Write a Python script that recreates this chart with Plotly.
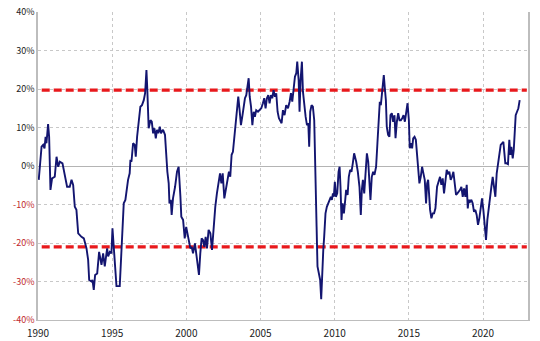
import plotly.graph_objects as go

# Monthly-ish readings of the series (fractional year, % value)
years = [
    1990.05, 1990.24, 1990.35, 1990.44, 1990.51, 1990.57, 1990.68, 1990.75, 1990.84, 1990.95,
    1991.13, 1991.25, 1991.36, 1991.47, 1991.65, 1991.81, 1991.96, 1992.14, 1992.26, 1992.37,
    1992.48, 1992.59, 1992.71, 1992.93, 1993.09, 1993.27, 1993.38, 1993.45, 1993.60, 1993.67,
    1993.76, 1993.85, 1993.99, 1994.12, 1994.28, 1994.39, 1994.50, 1994.66, 1994.73, 1994.84,
    1994.95, 1995.02,
    1995.29, 1995.51, 1995.62, 1995.69, 1995.78, 1995.89, 1995.96, 1996.07, 1996.18, 1996.23,
    1996.30, 1996.41, 1996.52, 1996.59, 1996.68, 1996.79, 1996.90, 1997.01, 1997.13, 1997.22,
    1997.31, 1997.37, 1997.46, 1997.58, 1997.67, 1997.76, 1997.85, 1997.94, 1998.02, 1998.11,
    1998.21, 1998.29, 1998.43, 1998.56, 1998.65, 1998.72, 1998.81, 1998.86, 1998.95, 1999.01,
    1999.10, 1999.24, 1999.37, 1999.48, 1999.60, 1999.66, 1999.78, 1999.89, 1999.99, 2000.14,
    2000.27, 2000.36, 2000.45, 2000.58,
    2000.67, 2000.85, 2000.94, 2001.03, 2001.12, 2001.21, 2001.30, 2001.39, 2001.50, 2001.62,
    2001.73, 2001.84, 2001.95, 2002.06, 2002.18, 2002.27, 2002.36, 2002.45, 2002.56, 2002.67,
    2002.78, 2002.87, 2002.96, 2003.05, 2003.14, 2003.23, 2003.32, 2003.41, 2003.50, 2003.59,
    2003.68, 2003.77, 2003.86, 2003.95, 2004.04, 2004.13, 2004.20, 2004.27, 2004.36, 2004.45,
    2004.54, 2004.62, 2004.71, 2004.83, 2004.94, 2005.05, 2005.16, 2005.25, 2005.34, 2005.43,
    2005.52, 2005.61, 2005.70, 2005.79, 2005.88, 2005.97, 2006.06,
    2006.15, 2006.24, 2006.33, 2006.42, 2006.51, 2006.62, 2006.73, 2006.85, 2006.96, 2007.05,
    2007.14, 2007.23, 2007.32, 2007.41, 2007.475, 2007.57, 2007.63, 2007.70, 2007.79, 2007.86,
    2007.95, 2008.04, 2008.13, 2008.22, 2008.28, 2008.35, 2008.44, 2008.53, 2008.62, 2008.71,
    2008.78, 2008.84, 2008.93, 2009.02, 2009.09, 2009.16, 2009.23, 2009.29, 2009.38, 2009.47,
    2009.56, 2009.65, 2009.74, 2009.81, 2009.88, 2009.94, 2010.01, 2010.08, 2010.17, 2010.26,
    2010.33, 2010.39, 2010.46, 2010.53, 2010.62, 2010.71, 2010.77, 2010.87, 2010.95, 2011.04,
    2011.13, 2011.22, 2011.31,
    2011.45, 2011.56, 2011.67, 2011.76, 2011.83, 2011.90, 2011.99, 2012.08, 2012.17, 2012.26,
    2012.35, 2012.41, 2012.50, 2012.59, 2012.68, 2012.79, 2012.88, 2012.97, 2013.04, 2013.11,
    2013.18, 2013.24, 2013.31, 2013.38, 2013.45, 2013.51, 2013.60, 2013.69, 2013.76, 2013.85,
    2013.94, 2014.03, 2014.10, 2014.19, 2014.28, 2014.37, 2014.46, 2014.55, 2014.64, 2014.73,
    2014.82, 2014.91, 2015.00, 2015.06, 2015.13, 2015.22, 2015.29, 2015.38, 2015.47, 2015.53,
    2015.62, 2015.71, 2015.80, 2015.89, 2015.98, 2016.07, 2016.16, 2016.23, 2016.30, 2016.36,
    2016.43, 2016.52, 2016.61, 2016.70, 2016.79,
    2016.90, 2017.01, 2017.10, 2017.19, 2017.28, 2017.37, 2017.46, 2017.55, 2017.64, 2017.73,
    2017.82, 2017.91, 2018.00, 2018.09, 2018.18, 2018.27, 2018.36, 2018.45, 2018.54, 2018.63,
    2018.72, 2018.81, 2018.90, 2018.97, 2019.03, 2019.12, 2019.21, 2019.30, 2019.39, 2019.48,
    2019.57, 2019.66, 2019.75, 2019.84, 2019.93, 2020.02, 2020.11, 2020.20, 2020.29, 2020.38,
    2020.47, 2020.56, 2020.65, 2020.74, 2020.83, 2020.92, 2021.01, 2021.10, 2021.19, 2021.28,
    2021.37, 2021.44, 2021.50, 2021.59, 2021.68, 2021.77, 2021.84, 2021.91, 2022.00, 2022.07,
    2022.13, 2022.20, 2022.29, 2022.38, 2022.47,
]

values = [
    -3.6, 5.0, 5.5, 4.6, 7.6, 5.9, 10.9, 7.6, -6.2, -3.2,
    -2.8, 2.4, -0.2, 1.1, 0.7, -2.8, -5.4, -5.4, -3.6, -4.9,
    -10.6, -11.4, -17.5, -18.4, -18.8, -21.4, -24.4, -29.6, -30.0, -29.6,
    -32.2, -28.3, -27.9, -22.3, -25.7, -22.7, -26.1, -21.4, -23.5, -22.3,
    -22.7, -16.2,
    -31.2, -31.2, -22.7, -14.9, -9.7, -8.8, -6.7, -3.6, -1.9, 1.6,
    1.1, 5.9, 5.5, 2.4, 7.6, 11.1, 15.4, 15.8, 17.1, 18.9,
    24.9, 19.7, 9.8, 11.9, 11.5, 8.5, 9.8, 7.2, 9.4, 8.5,
    10.2, 8.5, 9.4, 8.1, 1.1, -1.5, -4.5, -9.7, -8.8, -12.7,
    -8.4, -5.4, -1.5, -0.2, -8.0, -13.2, -14.0, -18.8, -15.8, -19.2,
    -21.4, -21.0, -22.7, -20.1,
    -22.7, -28.3, -22.7, -18.8, -19.2, -21.0, -18.4, -21.4, -16.6, -17.5,
    -21.8, -15.8, -10.6, -7.1, -3.6, -1.9, -4.5, -1.9, -8.4, -6.2,
    -3.6, -1.5, -2.8, 2.9, 3.7, 7.6, 11.9, 15.4, 18.0, 14.5,
    10.6, 12.8, 15.4, 17.6, 18.4, 20.6, 22.8, 18.0, 15.4, 10.6,
    14.1, 12.8, 14.5, 14.1, 14.5, 15.0, 16.3, 17.6, 15.0, 17.6,
    18.4, 16.3, 18.4, 17.6, 19.7, 18.0, 18.9,
    14.1, 12.4, 11.9, 11.1, 14.5, 13.2, 15.8, 15.0, 16.7, 18.9,
    16.7, 19.3, 23.2, 24.1, 27.1, 22.3, 14.1, 22.3, 27.1, 19.3,
    15.0, 12.8, 10.6, 11.1, 5.0, 14.1, 15.8, 15.4, 11.9, -0.2,
    -15.8, -26.1, -27.9, -29.6, -34.6, -27.0, -21.8, -18.4, -12.3, -10.6,
    -9.7, -8.8, -8.0, -8.8, -7.1, -8.0, -4.1, -8.0, -7.1, -1.5,
    -0.2, -5.4, -14.0, -9.7, -12.3, -8.8, -6.2, -7.5, -2.8, -1.0,
    -1.5, 0.7, 3.3,
    1.1, -1.5, -5.4, -12.7, -6.2, -3.6, -7.1, -1.0, 3.3, 1.1,
    -3.6, -8.8, -2.8, -1.5, -2.3, -0.2, 5.9, 11.1, 16.7, 15.8,
    18.0, 21.0, 23.6, 20.2, 17.1, 10.2, 8.1, 7.6, 13.2, 13.7,
    11.5, 13.2, 7.2, 11.5, 13.7, 11.9, 11.9, 12.4, 13.2, 11.5,
    14.5, 16.3, 11.9, 4.6, 5.9, 4.6, 7.2, 7.6, 6.8, 3.3,
    -0.2, -4.5, -2.8, -0.2, -1.9, -3.6, -9.7, -4.5, -3.6, -8.0,
    -11.4, -13.6, -12.3, -12.3, -11.0,
    -5.4, -4.1, -2.8, -4.9, -3.2, -7.1, -3.6, -1.0, -1.9, -1.5,
    -3.6, -2.8, -1.5, -4.5, -7.5, -7.1, -6.7, -6.2, -5.4, -8.0,
    -5.8, -8.0, -4.9, -11.0, -8.8, -9.3, -8.8, -9.7, -11.9, -11.4,
    -12.7, -15.3, -13.6, -10.6, -8.4, -11.4, -14.9, -19.2, -14.0, -10.6,
    -7.1, -5.4, -2.8, -5.4, -8.0, -1.9, 0.7, 3.3, 5.5, 5.9,
    6.3, 3.3, 0.7, 0.7, 0.5, 6.8, 2.9, 5.0, 2.0, 4.2,
    7.6, 13.2, 14.1, 15.0, 17.1,
]

thresholds = [19.7, -21.0]

y_ticks = [-40, -30, -20, -10, 0, 10, 20, 30, 40]
y_labels = [f"{v}%" for v in y_ticks]
x_ticks = [1990, 1995, 2000, 2005, 2010, 2015, 2020]
x_labels = [str(v) for v in x_ticks]

y_text = [
    (f"<span style='color:#c0282d'>{lab}</span>" if v < 0 else lab)
    for v, lab in zip(y_ticks, y_labels)
]

fig = go.Figure()

for t in thresholds:
    fig.add_trace(go.Scatter(
        x=[1990.25, 2022.95], y=[t, t], mode="lines",
        line=dict(color="#e8191c", width=3.2, dash="8px,4px"),
        hoverinfo="skip", showlegend=False,
    ))

fig.add_trace(go.Scatter(
    x=years, y=values, mode="lines",
    line=dict(color="#131570", width=1.9),
    showlegend=False,
))

font_family = "Noto Sans CJK JP, DejaVu Sans, sans-serif"

fig.update_layout(
    width=540, height=341,
    margin=dict(l=38, r=12, t=12, b=21, autoexpand=False),
    paper_bgcolor="white", plot_bgcolor="white",
    font=dict(family=font_family, size=9, color="#222222"),
    xaxis=dict(
        range=[1990, 2023.03], automargin=False,
        tickvals=x_ticks, ticktext=x_labels,
        showgrid=True, gridcolor="#c8c8c8", griddash="3px,3px", gridwidth=1,
        showline=True, linecolor="#bdbdbd", linewidth=1,
        zeroline=False, ticks="outside", ticklen=4, tickcolor="rgba(0,0,0,0)",
        tickfont=dict(size=10, color="#222222"),
    ),
    yaxis=dict(
        range=[-40, 40], automargin=False,
        tickvals=y_ticks, ticktext=y_text,
        showgrid=True, gridcolor="#c8c8c8", griddash="3px,3px", gridwidth=1,
        zeroline=True, zerolinecolor="#b4b4b4", zerolinewidth=1,
        showline=True, linecolor="#bdbdbd", linewidth=1.5, mirror=True,
        ticks="", ticklen=0,
        tickfont=dict(size=9, color="#222222"),
    ),
)

fig.write_html("out.html")
